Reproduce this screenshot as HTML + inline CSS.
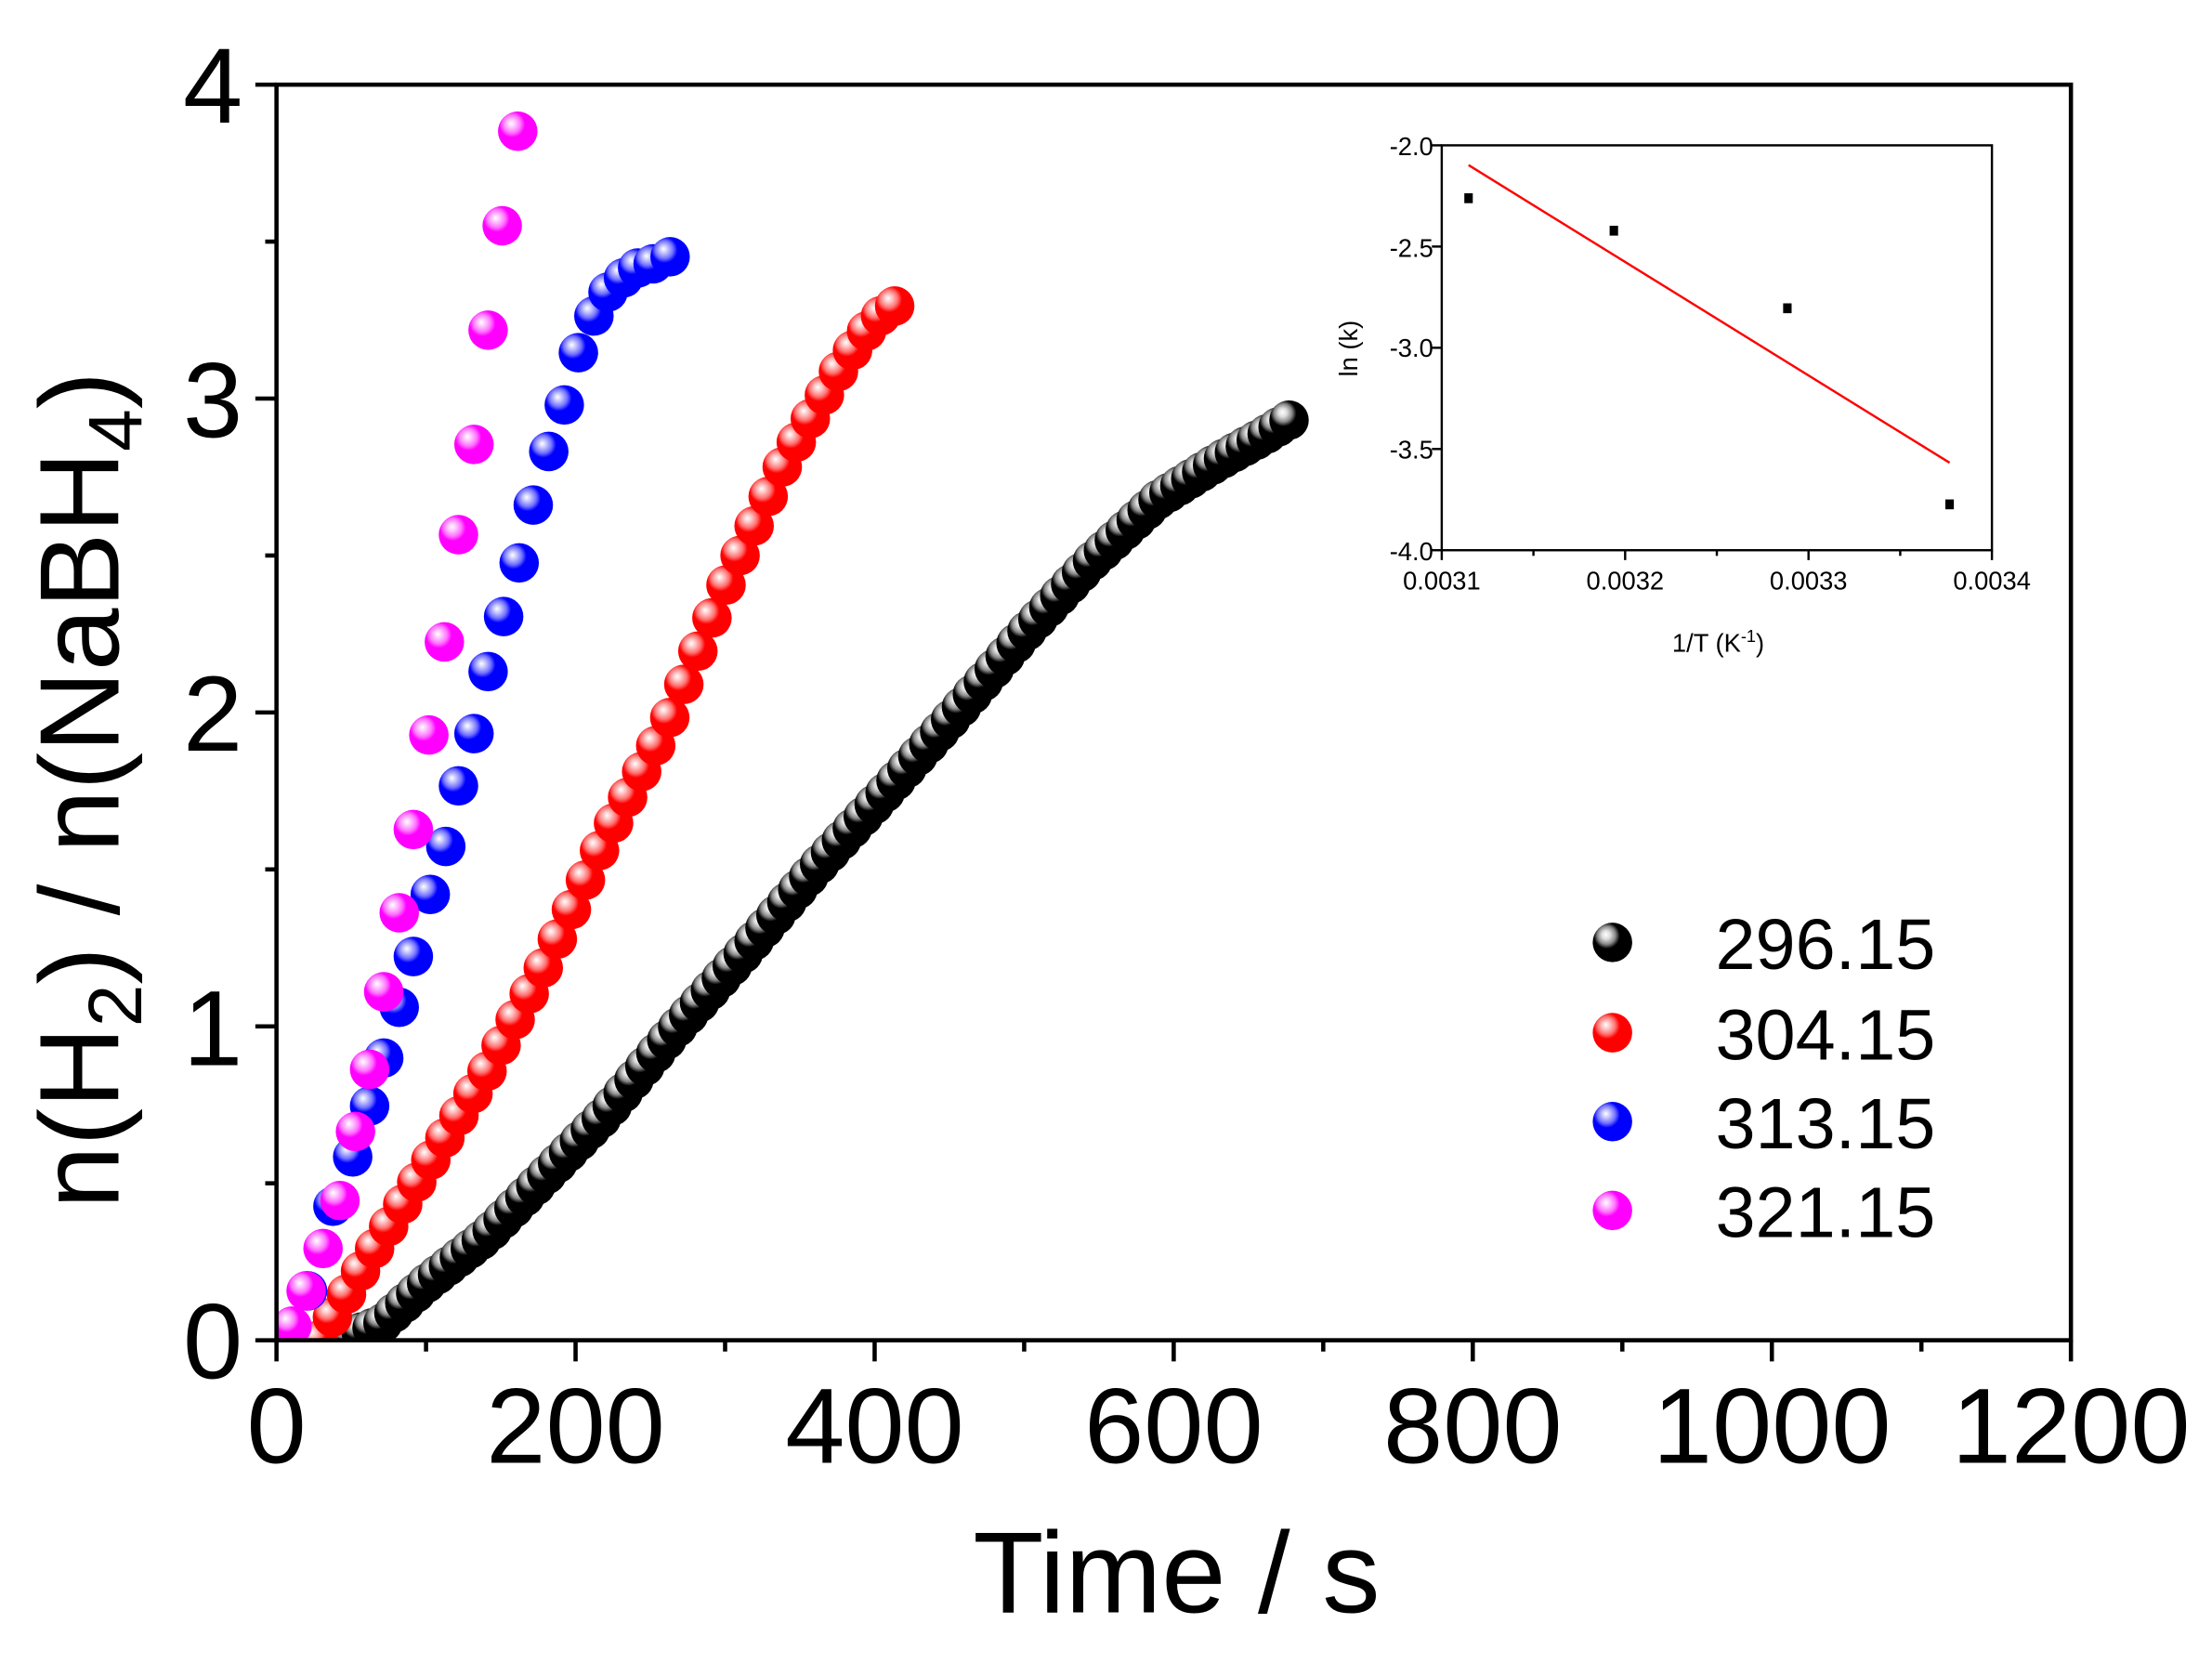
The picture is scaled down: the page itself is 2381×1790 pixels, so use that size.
<!DOCTYPE html>
<html><head><meta charset="utf-8"><style>
html,body{margin:0;padding:0;background:#fff;}
svg{display:block;}
text{font-family:"Liberation Sans",Arial,sans-serif;fill:#000;}
</style></head><body>
<svg id="s" width="2381" height="1790" viewBox="0 0 1568 1178.77" xmlns="http://www.w3.org/2000/svg">
<defs>
<radialGradient id="gk" cx="0.38" cy="0.35" r="0.6" fx="0.33" fy="0.3"><stop offset="0" stop-color="#fff"/><stop offset="0.18" stop-color="#ddd"/><stop offset="0.38" stop-color="#888"/><stop offset="0.55" stop-color="#000"/></radialGradient>
<radialGradient id="gr" cx="0.38" cy="0.35" r="0.6" fx="0.33" fy="0.3"><stop offset="0" stop-color="#fff"/><stop offset="0.18" stop-color="#ffc0c0"/><stop offset="0.38" stop-color="#ff7070"/><stop offset="0.55" stop-color="#f00"/></radialGradient>
<radialGradient id="gb" cx="0.38" cy="0.35" r="0.6" fx="0.33" fy="0.3"><stop offset="0" stop-color="#fff"/><stop offset="0.18" stop-color="#c0c0ff"/><stop offset="0.38" stop-color="#7070ff"/><stop offset="0.55" stop-color="#00f"/></radialGradient>
<radialGradient id="gm" cx="0.38" cy="0.35" r="0.6" fx="0.33" fy="0.3"><stop offset="0" stop-color="#fff"/><stop offset="0.18" stop-color="#ffc0ff"/><stop offset="0.38" stop-color="#ff70ff"/><stop offset="0.55" stop-color="#f0f"/></radialGradient>
<clipPath id="cp"><rect x="196" y="0" width="1272" height="950"/></clipPath>
</defs>
<g id="data" clip-path="url(#cp)"></g>
<rect x="196" y="60" width="1272" height="890" fill="none" stroke="#000" stroke-width="3"/>
<g id="axes" stroke="#000" stroke-width="3"></g>
<g font-size="76" text-anchor="middle">
<text x="196" y="1037">0</text><text x="408" y="1037">200</text><text x="620" y="1037">400</text><text x="832" y="1037">600</text><text x="1044" y="1037">800</text><text x="1256" y="1037">1000</text><text x="1468" y="1037">1200</text>
</g>
<g font-size="76" text-anchor="end">
<text x="172" y="977">0</text><text x="172" y="755">1</text><text x="172" y="532">2</text><text x="172" y="310">3</text><text x="172" y="87">4</text>
</g>
<text x="834" y="1143" font-size="82" text-anchor="middle">Time / s</text>
<text transform="translate(84,560) rotate(-90)" font-size="80" text-anchor="middle">n(H<tspan font-size="54" dy="16">2</tspan><tspan dy="-16">) / n(NaBH</tspan><tspan font-size="54" dy="16">4</tspan><tspan dy="-16">)</tspan></text>
<g font-size="51">
<text x="1216" y="687">296.15</text><text x="1216" y="751">304.15</text><text x="1216" y="814">313.15</text><text x="1216" y="877">321.15</text>
</g>
<circle cx="1143" cy="668" r="14" fill="url(#gk)"/>
<circle cx="1143" cy="732" r="14" fill="url(#gr)"/>
<circle cx="1143" cy="795" r="14" fill="url(#gb)"/>
<circle cx="1143" cy="858" r="14" fill="url(#gm)"/>
<rect x="1022" y="103" width="390" height="287" fill="none" stroke="#000" stroke-width="1.6"/>
<g id="inset" stroke="#000" stroke-width="1.6"></g>
<line x1="1041" y1="117" x2="1382" y2="328" stroke="#f00" stroke-width="1.6"/>
<rect x="1038" y="137" width="6" height="7" fill="#000"/>
<rect x="1141" y="160" width="6" height="7" fill="#000"/>
<rect x="1264" y="215" width="6" height="7" fill="#000"/>
<rect x="1379" y="354" width="6" height="7" fill="#000"/>
<g font-size="18" text-anchor="end">
<text x="1016" y="110">-2.0</text><text x="1016" y="182">-2.5</text><text x="1016" y="253">-3.0</text><text x="1016" y="325">-3.5</text><text x="1016" y="397">-4.0</text>
</g>
<g font-size="18" text-anchor="middle">
<text x="1022" y="418">0.0031</text><text x="1152" y="418">0.0032</text><text x="1282" y="418">0.0033</text><text x="1412" y="418">0.0034</text>
</g>
<text x="1218" y="462" font-size="18" text-anchor="middle">1/T (K<tspan font-size="12" dy="-7">-1</tspan><tspan dy="7">)</tspan></text>
<text transform="translate(962,247) rotate(-90)" font-size="18" text-anchor="middle">ln (k)</text>
</svg>
<script>
var NS="http://www.w3.org/2000/svg";
function el(p,n,a){var e=document.createElementNS(NS,n);for(var k in a)e.setAttribute(k,a[k]);p.appendChild(e);return e;}
var ax=document.getElementById('axes');
for(var t=0;t<=1200;t+=100){var x=196+t*1.06;el(ax,'line',{x1:x,y1:950,x2:x,y2:950+(t%200?8:15)});}
for(var v=0;v<=4;v+=0.5){var y=950-v*222.5;el(ax,'line',{x1:196,y1:y,x2:196-(v%1?8:15),y2:y});}
var ins=document.getElementById('inset');
for(var i=0;i<=6;i++){var x=1022+i*65;el(ins,'line',{x1:x,y1:390,x2:x,y2:390+(i%2?4:7)});}
for(var i=0;i<=4;i++){var y=103+i*71.75;el(ins,'line',{x1:1022,y1:y,x2:1015,y2:y});}
function interp(pts,t){for(var i=0;i<pts.length-1;i++){if(t<=pts[i+1][0]){var a=pts[i],b=pts[i+1];return a[1]+(b[1]-a[1])*(t-a[0])/(b[0]-a[0]);}}return pts[pts.length-1][1];}
var g=document.getElementById('data');
function ball(x,y,f){el(g,'circle',{cx:x,cy:y,r:14,fill:'url(#'+f+')'});}
var K=[[42,0],[70,0.05],[100,0.18],[140,0.33],[175,0.5],[220,0.72],[265,0.98],[310,1.22],[360,1.5],[410,1.76],[455,2.0],[500,2.25],[545,2.48],[590,2.68],[630,2.8],[660,2.88],[680,2.94]];
for(var t=42;t<=681;t+=7.3){ball(196+t*1.06,950-interp(K,t)*222.5,'gk');}
var R=[[28,0],[60,0.25],[100,0.55],[140,0.85],[180,1.2],[220,1.6],[260,1.95],[300,2.4],[340,2.8],[380,3.12],[400,3.25],[415,3.3]];
for(var t=28;t<=416;t+=9.4){ball(196+t*1.06,950-interp(R,t)*222.5,'gr');}
var B=[[200,950],[218,915],[236,855],[250,820],[262,784],[272,750],[283,714],[293,678],[305,634],[316,600],[325,557],[336,520],[346,476],[357,437],[368,399],[378,358],[389,320],[400,287],[410,250],[421,224],[431,207],[442,197],[452,190],[463,187],[475,182]];
B.forEach(function(p){ball(p[0],p[1],'gb');});
var M=[[207,940],[217,915],[229,885],[241,851],[252,802],[262,758],[272,703],[283,647],[293,588],[304,521],[315,455],[325,379],[336,315],[346,234],[356,160],[367,93]];
M.forEach(function(p){ball(p[0],p[1],'gm');});
</script>
</body></html>
